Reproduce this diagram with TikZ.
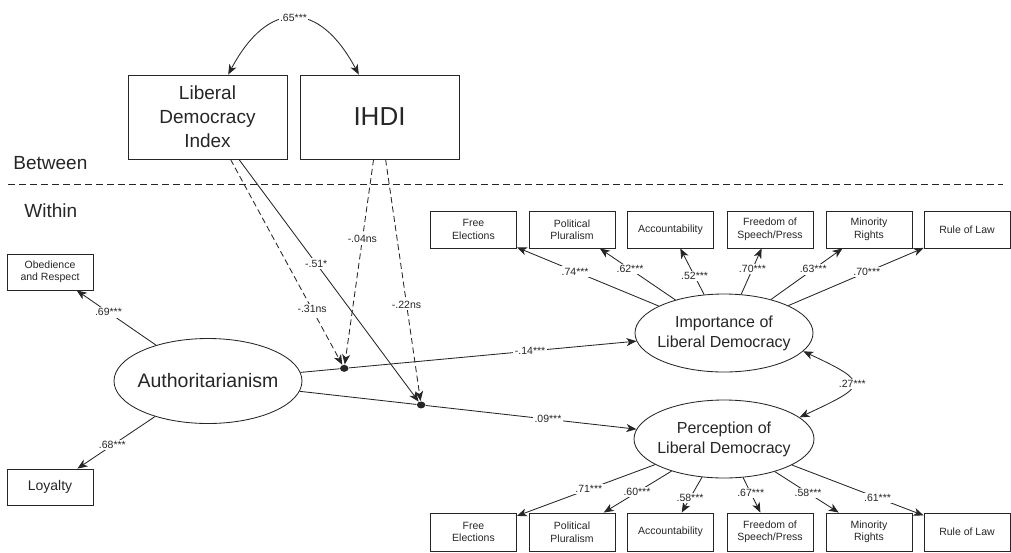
\documentclass[tikz,border=0pt]{standalone}
\usepackage{fontspec}
\setmainfont{Liberation Sans}
\usetikzlibrary{arrows.meta,calc,shapes.geometric}
\begin{document}
\begin{tikzpicture}[x=1pt,y=-1pt,
  line width=0.85pt, color=black!85,
  >={Stealth[length=10pt,width=8pt,inset=2.8pt]},
  ind/.style={draw,rectangle,minimum width=86pt,minimum height=37pt,inner sep=0pt,align=center,font=\fontsize{10.5}{12.5}\selectfont},
  lat/.style={draw,ellipse,inner sep=0pt},
  coef/.style={fill=white,inner sep=1.5pt,font=\fontsize{10.5}{12}\selectfont},
  dotn/.style={fill,ellipse,minimum width=8.5pt,minimum height=7pt,inner sep=0pt},
  dsh/.style={dash pattern=on 6pt off 3.5pt}
]
\useasboundingbox (0,0) rectangle (1011,552);

% Between level
\node[draw,minimum width=159pt,minimum height=84pt,inner sep=0pt,align=center,font=\fontsize{19}{24}\selectfont] (ldi) at (207.5,117) {Liberal\\Democracy\\Index};
\node[draw,minimum width=159pt,minimum height=84pt,inner sep=0pt,font=\fontsize{26}{30}\selectfont] (ihdi) at (379.5,117) {IHDI};
\draw[<->] (ldi.64) .. controls +(62:85pt) and +(118:85pt) .. (ihdi.116) node[coef,midway] {.65***};

\node[anchor=west,inner sep=0pt,font=\fontsize{19}{23}\selectfont] (betw) at (13,163) {Between};
\node[anchor=west,inner sep=0pt,font=\fontsize{19}{23}\selectfont] (within) at (24,211) {Within};
\coordinate (sepL) at (8,184);
\coordinate (sepR) at (1003,184);
\draw[dash pattern=on 7pt off 4pt] (sepL) -- (sepR);

% Within level
\node[lat,minimum width=188pt,minimum height=85pt,label={[font=\fontsize{19.5}{23}\selectfont]center:Authoritarianism}] (auth) at (208,381) {};
\node[lat,minimum width=178pt,minimum height=78pt,label={[align=center,font=\fontsize{16}{20}\selectfont]center:Importance of\\Liberal Democracy}] (imp) at (724,333) {};
\node[lat,minimum width=180pt,minimum height=78pt,label={[align=center,font=\fontsize{16}{20}\selectfont]center:Perception of\\Liberal Democracy}] (per) at (724,439) {};

\node[ind,minimum height=36pt] (ob) at (50,272) {Obedience\\and Respect};
\node[ind,minimum height=36pt,font=\fontsize{14}{16}\selectfont] (loy) at (50,487) {Loyalty};
\draw[->] (auth) -- (ob) node[coef,pos=0.6] {.69***};
\draw[->] (auth) -- (loy) node[coef,pos=0.55] {.68***};

% top indicators
\node[ind] (i1) at (473.5,229.5) {Free\\Elections};
\node[ind] (i2) at (572,229.5) {Political\\Pluralism};
\node[ind] (i3) at (670.5,229.5) {Accountability};
\node[ind] (i4) at (770,229.5) {Freedom of\\Speech/Press};
\node[ind] (i5) at (869,229.5) {Minority\\Rights};
\node[ind] (i6) at (967,229.5) {Rule of Law};
\draw[->] (imp) -- (i1) node[coef,pos=0.59] {.74***};
\draw[->] (imp) -- (i2) node[coef,pos=0.6] {.62***};
\draw[->] (imp) -- (i3) node[coef,pos=0.4] {.52***};
\draw[->] (imp) -- (i4) node[coef,pos=0.55] {.70***};
\draw[->] (imp) -- (i5) node[coef,pos=0.59] {.63***};
\draw[->] (imp) -- (i6) node[coef,pos=0.58] {.70***};

% bottom indicators
\node[ind,minimum height=38pt] (p1) at (473.5,532) {Free\\Elections};
\node[ind,minimum height=38pt] (p2) at (572,532) {Political\\Pluralism};
\node[ind,minimum height=38pt] (p3) at (670.5,532) {Accountability};
\node[ind,minimum height=38pt] (p4) at (770,532) {Freedom of\\Speech/Press};
\node[ind,minimum height=38pt] (p5) at (869,532) {Minority\\Rights};
\node[ind,minimum height=38pt] (p6) at (967,532) {Rule of Law};
\draw[->] (per) -- (p1) node[coef,pos=0.48] {.71***};
\draw[->] (per) -- (p2) node[coef,pos=0.51] {.60***};
\draw[->] (per) -- (p3) node[coef,pos=0.59] {.58***};
\draw[->] (per) -- (p4) node[coef,pos=0.44] {.67***};
\draw[->] (per) -- (p5) node[coef,pos=0.52] {.58***};
\draw[->] (per) -- (p6) node[coef,pos=0.65] {.61***};

\draw[<->] (imp.-13) .. controls +(-25:75pt) and +(25:75pt) .. (per.16) node[coef,midway] {.27***};

% moderation points
\node[dotn] (d1) at ($(auth)!0.264!(imp)$) {};
\node[dotn] (d2) at ($(auth)!0.413!(per)$) {};
\draw (auth) -- (d1);
\draw[->] (d1) -- (imp) node[coef,pos=0.63] {-.14***};
\draw (auth) -- (d2);
\draw[->] (d2) -- (per) node[coef,pos=0.58] {.09***};

\draw[dsh,->] (ldi) -- (d1) node[coef,pos=0.73] {-.31ns};
\draw[->] (ldi) -- (d2) node[coef,pos=0.43] {-.51*};
\draw[dsh,->] (ihdi) -- (d1) node[coef,pos=0.39] {-.04ns};
\draw[dsh,->] (ihdi) -- (d2) node[coef,pos=0.6] {-.22ns};
\end{tikzpicture}
\end{document}
